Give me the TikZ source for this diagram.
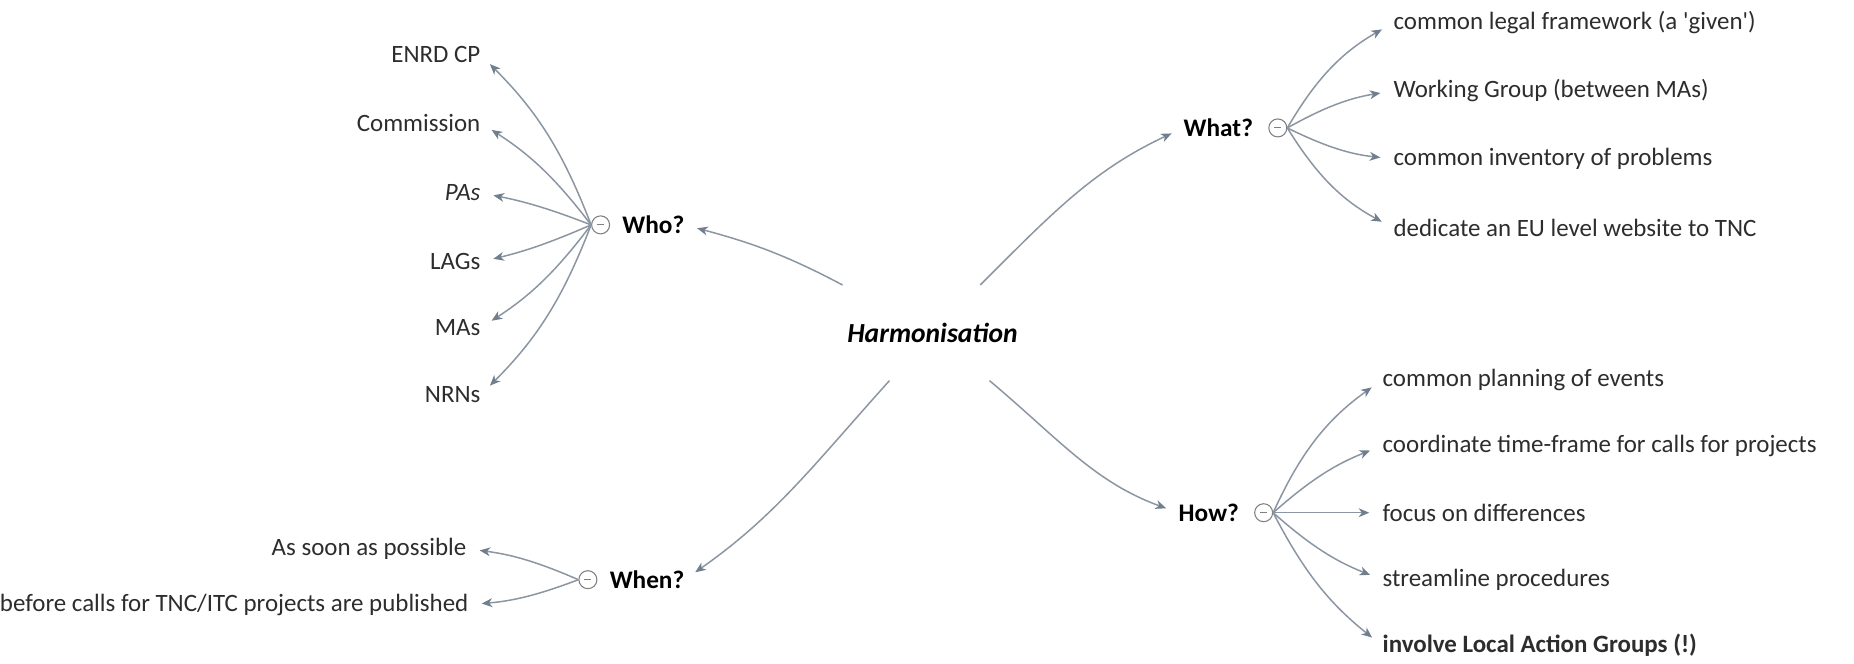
\documentclass[tikz,border=0pt]{standalone}
\usepackage{fontspec}
\setmainfont{Carlito}
\usetikzlibrary{arrows.meta,positioning}
\definecolor{linegray}{RGB}{140,150,162}
\definecolor{tipgray}{RGB}{112,126,142}
\definecolor{leafgray}{RGB}{45,45,45}

\begin{document}
\begin{tikzpicture}[
        topic/.style={inner sep=0pt, font=\fontsize{14.4}{17}\selectfont\bfseries},
        leaf/.style={inner sep=0pt, text=leafgray, font=\fontsize{14.2}{17}\selectfont},
        toggle/.style={circle, draw=gray, line width=0.6pt, minimum size=0.36cm, inner sep=0pt,
            path picture={\draw[gray, line width=0.6pt] ([xshift=-2pt]path picture bounding box.center) -- ([xshift=2pt]path picture bounding box.center);}},
        link/.style={draw=linegray, line width=0.85pt, shorten >=0.26cm,
            -{Stealth[length=6pt, width=5pt, inset=1.8pt, color=tipgray]}},
    ]
        \fill[white] (-18.64, -6.62) rectangle (18.44, 6.66);
        \node[minimum width=4.1cm, minimum height=1.9cm, inner sep=0pt,
              font=\fontsize{15.7}{18}\selectfont\bfseries\itshape] (harm) at (0, 0) {Harmonisation};

        % Who?
        \node[topic, anchor=east] (who) at (-4.96, 2.16) {Who?};
        \node[toggle, left=0.24cm of who] (whoc) {};
        \node[leaf, anchor=east] (enrd) at (-9.04,  5.56) {ENRD CP};
        \node[leaf, anchor=east] (comm) at (-9.04,  4.20) {Commission};
        \node[leaf, anchor=east] (pas)  at (-9.04,  2.80) {\itshape PAs};
        \node[leaf, anchor=east] (lags) at (-9.04,  1.42) {LAGs};
        \node[leaf, anchor=east] (mas)  at (-9.04,  0.10) {MAs};
        \node[leaf, anchor=east] (nrns) at (-9.04, -1.24) {NRNs};
        \draw[link] (harm) to[out=152, in=-15] (who.east);
        \draw[link] (whoc.west) to[bend right=12] (enrd.east);
        \draw[link] (whoc.west) to[bend right=10] (comm.east);
        \draw[link] (whoc.west) to[bend right=5]  (pas.east);
        \draw[link] (whoc.west) to[bend left=5]   (lags.east);
        \draw[link] (whoc.west) to[bend left=10]  (mas.east);
        \draw[link] (whoc.west) to[bend left=12]  (nrns.east);

        % When?
        \node[topic, anchor=east] (when) at (-4.96, -4.94) {When?};
        \node[toggle, left=0.24cm of when] (whenc) {};
        \node[leaf, anchor=east] (asap)   at (-9.32, -4.32) {As soon as possible};
        \node[leaf, anchor=east] (before) at (-9.28, -5.44) {before calls for TNC/ITC projects are published};
        \draw[link] (harm) to[out=228, in=35] (when.east);
        \draw[link] (whenc.west) to[bend right=8] (asap.east);
        \draw[link] (whenc.west) to[bend left=8]  (before.east);

        % What?
        \node[topic, anchor=west] (what) at (5.02, 4.10) {What?};
        \node[toggle, right=0.3cm of what] (whatc) {};
        \node[leaf, anchor=west] (legal) at (9.22, 6.20) {common legal framework (a \textquotesingle given\textquotesingle)};
        \node[leaf, anchor=west] (wg)    at (9.22, 4.84) {Working Group (between MAs)};
        \node[leaf, anchor=west] (inv)   at (9.22, 3.48) {common inventory of problems};
        \node[leaf, anchor=west] (web)   at (9.22, 2.10) {dedicate an EU level website to TNC};
        \draw[link] (harm) to[out=45, in=205] (what.west);
        \draw[link] (whatc.east) to[bend left=15]  (legal.west);
        \draw[link] (whatc.east) to[bend left=10]  (wg.west);
        \draw[link] (whatc.east) to[bend right=10] (inv.west);
        \draw[link] (whatc.east) to[bend right=15] (web.west);

        % How?
        \node[topic, anchor=west] (how) at (4.92, -3.60) {How?};
        \node[toggle, right=0.3cm of how] (howc) {};
        \node[leaf, anchor=west] (plan)  at (9.00, -0.94) {common planning of events};
        \node[leaf, anchor=west] (coord) at (9.00, -2.26) {coordinate time-frame for calls for projects};
        \node[leaf, anchor=west] (diff)  at (9.00, -3.60) {focus on differences};
        \node[leaf, anchor=west] (proc)  at (9.00, -4.94) {streamline procedures};
        \node[leaf, anchor=west] (lag)   at (9.00, -6.26) {\bfseries involve Local Action Groups (!)};
        \draw[link] (harm) to[out=-40, in=160] (how.west);
        \draw[link] (howc.east) to[bend left=15]  (plan.west);
        \draw[link] (howc.east) to[bend left=10]  (coord.west);
        \draw[link] (howc.east) --                (diff.west);
        \draw[link] (howc.east) to[bend right=10] (proc.west);
        \draw[link] (howc.east) to[bend right=12] (lag.west);
    \end{tikzpicture}
\end{document}
